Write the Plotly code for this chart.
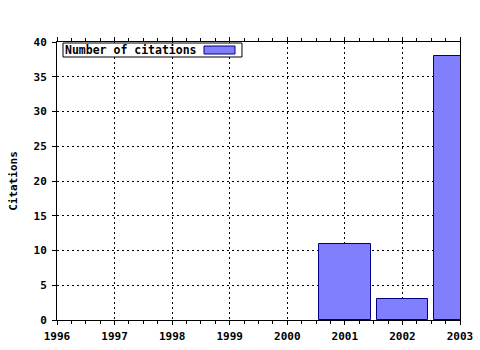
import plotly.graph_objects as go

years = [1996, 1997, 1998, 1999, 2000, 2001, 2002, 2003]
citations = [0, 0, 0, 0, 0, 11, 3, 38]
series_name = "Number of citations"
y_title = "Citations"

FONT = "DejaVu Sans Mono"

bar_x = [yr for yr, c in zip(years, citations) if c > 0]
bar_y = [c for c in citations if c > 0]

fig = go.Figure()
fig.add_trace(go.Bar(
    x=bar_x, y=bar_y, width=0.9,
    marker=dict(color="#8080ff", line=dict(color="#000080", width=1)),
    showlegend=False, cliponaxis=True,
))

axis_common = dict(
    showline=True, linecolor="black", linewidth=1,
    ticks="outside", ticklen=4, tickcolor="black", tickwidth=1,
    showgrid=True, gridcolor="black", gridwidth=1, griddash="2px,3px",
    zeroline=False, automargin=False,
    tickfont=dict(family=FONT, size=11, color="black", weight="bold"),
)

fig.update_xaxes(
    range=[1996, 2003], tick0=1996, dtick=1, mirror="allticks",
    ticklabelstandoff=2,
    minor=dict(dtick=0.25, tick0=1996, ticks="outside", ticklen=3, tickcolor="black", showgrid=False),
    **axis_common,
)
fig.update_yaxes(
    range=[0, 40], tick0=0, dtick=5, mirror=True,
    ticklabelstandoff=3,
    title=dict(text=y_title, font=dict(family=FONT, size=11, color="black", weight="bold"), standoff=13),
    **axis_common,
)

# legend box (text then swatch)
fig.add_shape(type="rect", xref="x domain", yref="y domain",
              x0=0.0149, x1=0.459, y0=0.946, y1=0.9964,
              line=dict(color="black", width=1), fillcolor="white", layer="above")
fig.add_shape(type="rect", xref="x domain", yref="y domain",
              x0=0.3648, x1=0.4417, y0=0.9568, y1=0.9856,
              line=dict(color="#000080", width=1), fillcolor="#8080ff", layer="above")
fig.add_annotation(text=series_name, xref="x domain", yref="y domain",
                   x=0.015, y=0.971, xanchor="left", yanchor="middle", showarrow=False,
                   font=dict(family=FONT, size=11.5, color="black", weight="bold"))

fig.update_layout(
    width=480, height=350,
    margin=dict(l=57, r=20, t=42, b=30),
    paper_bgcolor="white", plot_bgcolor="white",
    bargap=0,
)

fig.write_html("out.html")
